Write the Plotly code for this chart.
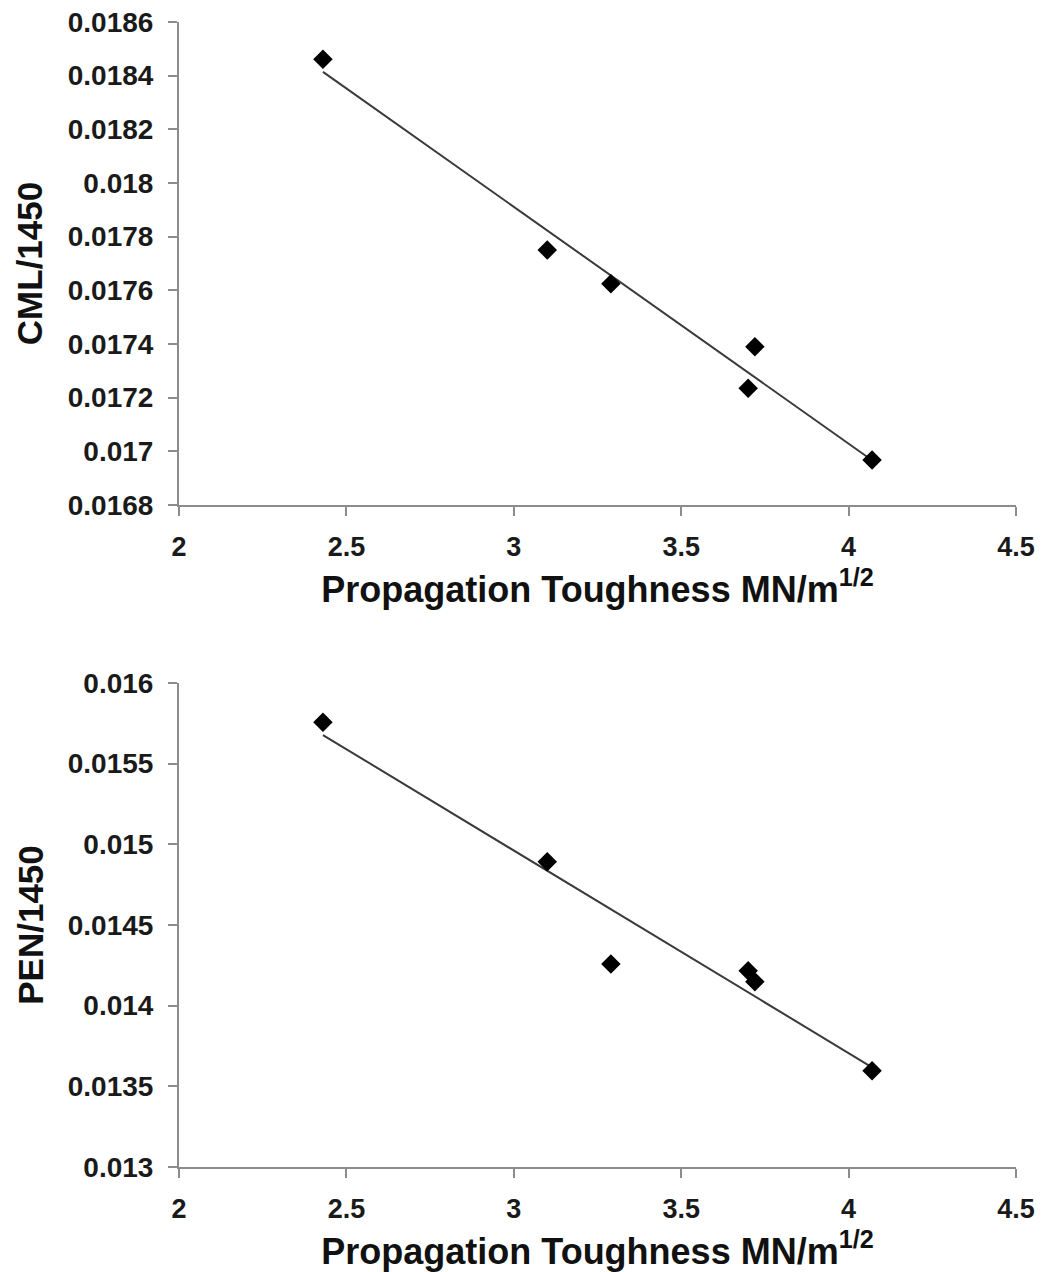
import numpy as np
import plotly.graph_objects as go

# Data
toughness = [2.43, 3.10, 3.29, 3.72, 3.70, 4.07]
cml_1450 = [0.018461, 0.01775, 0.017624, 0.01739, 0.017235, 0.016968]
pen_toughness = [2.43, 3.10, 3.29, 3.70, 3.72, 4.07]
pen_1450 = [0.015756, 0.014892, 0.014258, 0.014217, 0.014149, 0.013597]

x_title = "Propagation Toughness MN/m<sup>1/2</sup>"
y_title_top = "CML/1450"
y_title_bot = "PEN/1450"

fig = go.Figure()


def add_series(xv, yv, xa, ya):
    xs = np.array(xv)
    ys = np.array(yv)
    k, b = np.polyfit(xs, ys, 1)
    xl = np.array([xs.min(), xs.max()])
    fig.add_trace(go.Scatter(x=xl, y=k * xl + b, mode="lines",
                             line=dict(color="#3a3a3a", width=2),
                             xaxis=xa, yaxis=ya, showlegend=False, hoverinfo="skip"))
    fig.add_trace(go.Scatter(x=xv, y=yv, mode="markers",
                             marker=dict(symbol="diamond", size=15, color="black"),
                             xaxis=xa, yaxis=ya, showlegend=False))


add_series(toughness, cml_1450, "x", "y")
add_series(pen_toughness, pen_1450, "x2", "y2")

axis_common = dict(showgrid=False, zeroline=False, showline=True, linecolor="#8c8c8c",
                   linewidth=2, ticks="outside", ticklen=9, tickwidth=1.5, tickcolor="#8c8c8c",
                   automargin=False, ticklabeloverflow="allow")
xfont = dict(family="Liberation Sans, Arial", size=27, color="#1a1a1a", weight="bold")
yfont = dict(family="Liberation Sans, Arial", size=28, color="#1a1a1a", weight="bold")
xtfont = dict(family="Liberation Sans, Arial", size=36, color="#111111", weight="bold")
ytfont = dict(family="Liberation Sans, Arial", size=35, color="#111111", weight="bold")

fig.update_layout(
    width=1055, height=1272,
    margin=dict(l=171, r=47, t=14, b=113),
    paper_bgcolor="white", plot_bgcolor="white",
    xaxis=dict(domain=[0, 1], anchor="y", range=[2, 4.5], dtick=0.5, tickfont=xfont,
               ticklabelstandoff=8, title=dict(text=x_title, font=xtfont, standoff=15),
               **axis_common),
    yaxis=dict(domain=[0.5782, 1], anchor="x", range=[0.0168, 0.0186], dtick=0.0002,
               tickformat="~g", tickfont=yfont, ticklabelstandoff=9,
               title=dict(text=y_title_top, font=ytfont, standoff=14), **axis_common),
    xaxis2=dict(domain=[0, 1], anchor="y2", range=[2, 4.5], dtick=0.5, tickfont=xfont,
                ticklabelstandoff=8, title=dict(text=x_title, font=xtfont, standoff=15),
                **axis_common),
    yaxis2=dict(domain=[0, 0.4227], anchor="x2", range=[0.013, 0.016], dtick=0.0005,
                tickformat="~g", tickfont=yfont, ticklabelstandoff=9,
                title=dict(text=y_title_bot, font=ytfont, standoff=14), **axis_common),
)

fig.write_html("out.html")
